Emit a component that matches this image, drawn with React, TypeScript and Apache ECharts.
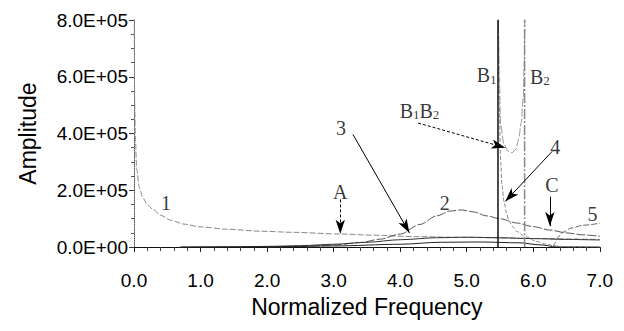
import React, { useEffect, useRef } from "react";
import * as echarts from "echarts";

// Axis tick labels
const xTickLabels = ["0.0", "1.0", "2.0", "3.0", "4.0", "5.0", "6.0", "7.0"];
const yTickLabels = ["0.0E+00", "2.0E+05", "4.0E+05", "6.0E+05", "8.0E+05"];

// Curves: [normalized frequency, amplitude]
const curve1 = [
  [0.002, 900000], [0.01, 520000], [0.02, 390000], [0.04, 275000], [0.08, 210000],
  [0.13, 175000], [0.2, 150000], [0.29, 132000], [0.4, 112000], [0.55, 95000],
  [0.75, 81000], [1.0, 71000], [1.4, 63000], [1.9, 56000], [2.4, 52000],
  [3.1, 46000], [3.6, 42000], [4.2, 37000], [5.0, 34000], [6.0, 30000], [7.0, 27000],
];
const curve2 = [
  [2.0, 0], [2.5, 2000], [3.0, 7000], [3.4, 16000], [3.7, 28000], [4.0, 46000],
  [4.3, 80000], [4.55, 110000], [4.75, 127000], [4.92, 131000], [5.1, 124000],
  [5.3, 110000], [5.5, 100000], [5.75, 85000], [6.0, 72000], [6.25, 60000],
  [6.5, 50000], [6.75, 43000], [7.0, 38000],
];
const curve3 = [
  [0.7, 0], [1.5, 1000], [2.0, 2500], [2.5, 5000], [3.0, 10000], [3.5, 17000],
  [4.0, 26000], [4.55, 33000], [5.0, 35000], [5.5, 33000], [6.0, 30000],
  [6.5, 27000], [7.0, 25000],
];
const curve4 = [
  [5.475, 850000], [5.49, 500000], [5.51, 300000], [5.53, 220000], [5.56, 160000],
  [5.6, 120000], [5.63, 92000], [5.7, 70000], [5.75, 55000], [5.89, 36000],
  [6.05, 20000], [6.2, 10000], [6.33, 4000], [6.5, 1000], [7.0, 0],
];
const curve5 = [
  [6.3, 0], [6.33, 15000], [6.38, 38000], [6.45, 53000], [6.57, 67000],
  [6.75, 77000], [7.0, 84000],
];
const curve6 = [
  [0.7, 0], [2.0, 1000], [3.0, 4000], [4.0, 10000], [4.6, 17000], [5.2, 18000],
  [5.8, 15000], [6.1, 8000], [6.35, 1000], [7.0, 0],
];
const curveB1B2 = [
  [5.475, 850000], [5.49, 600000], [5.51, 430000], [5.56, 363000], [5.62, 338000],
  [5.68, 332000], [5.74, 345000], [5.78, 380000], [5.82, 440000], [5.85, 530000],
  [5.865, 650000], [5.875, 850000],
];
const lineB1 = [[5.47, 0], [5.47, 800000]];
const lineB2 = [[5.87, 0], [5.87, 800000]];

// Annotation labels: [x, y, text]
const labelPoints = [
  [0.48, 155000, "1"],
  [3.1, 195000, "A"],
  [4.67, 155000, "2"],
  [3.11, 420000, "3"],
  [6.33, 353000, "4"],
  [6.89, 118000, "5"],
  [6.28, 218000, "C"],
  [4.29, 480000, "{b|B}{s|1}{b|B}{s|2}"],
  [5.3, 605000, "{b|B}{s|1}"],
  [6.1, 600000, "{b|B}{s|2}"],
];

// Arrows: [x1, y1, x2, y2, dotted]
const arrows = [
  [3.29, 397000, 4.14, 50000, 0],
  [4.27, 437000, 5.58, 350000, 1],
  [6.28, 336000, 5.58, 161000, 0],
  [3.1, 168000, 3.1, 47000, 1],
  [6.25, 178000, 6.25, 74000, 0],
];

const sans = "'Liberation Sans', Arial, Helvetica, sans-serif";
const serif = "'Liberation Serif', 'Times New Roman', serif";

export default function App() {
  const ref = useRef<HTMLDivElement>(null);
  useEffect(() => {
    if (!ref.current) return;
    const chart = echarts.init(ref.current, undefined, { renderer: "svg" });
    const mkLine = (data: number[][], color: string, type: any, width = 1) => ({
      type: "line",
      data,
      showSymbol: false,
      symbol: "none",
      smooth: 0.3,
      smoothMonotone: "x",
      lineStyle: { color, width, type },
      silent: true,
      z: 3,
    });
    chart.setOption({
      animation: false,
      grid: { left: 116, right: 6, top: 12, bottom: 65, containLabel: false },
      xAxis: {
        type: "value",
        min: 0,
        max: 7,
        interval: 1,
        name: "Normalized Frequency",
        nameLocation: "middle",
        nameGap: 40,
        nameTextStyle: { fontFamily: sans, fontSize: 23, color: "#000" },
        axisLine: { lineStyle: { color: "#111", width: 1 } },
        axisTick: { show: true, inside: false, length: 5, lineStyle: { color: "#222" } },
        minorTick: { show: true, splitNumber: 5, length: 4, lineStyle: { color: "#444" } },
        splitLine: { show: false },
        axisLabel: {
          fontFamily: sans,
          fontSize: 19,
          color: "#000",
          margin: 24,
          formatter: (v: number) => xTickLabels[Math.round(v)] ?? "",
        },
      },
      yAxis: {
        type: "value",
        min: 0,
        max: 800000,
        interval: 200000,
        name: "Amplitude",
        nameLocation: "middle",
        nameGap: 95,
        nameRotate: 90,
        nameTextStyle: { fontFamily: sans, fontSize: 23, color: "#000" },
        axisLine: { show: true, lineStyle: { color: "#555", width: 1, type: "dotted" } },
        axisTick: { show: true, inside: false, length: 5, lineStyle: { color: "#333" } },
        minorTick: { show: true, splitNumber: 4, length: 3, lineStyle: { color: "#555" } },
        splitLine: { show: false },
        axisLabel: {
          fontFamily: sans,
          fontSize: 19,
          color: "#000",
          margin: 6,
          formatter: (v: number) => yTickLabels[Math.round(v / 200000)] ?? "",
        },
      },
      series: [
        mkLine(curve1, "#8a8a8a", [6, 2]),
        mkLine(curve2, "#555", [9, 2]),
        mkLine(curve3, "#333", "solid"),
        mkLine(curve6, "#222", "solid"),
        mkLine(curve4, "#888", [4, 2]),
        mkLine(curve5, "#666", [6, 2]),
        mkLine(curveB1B2, "#999", [8, 2]),
        mkLine(lineB1, "#111", "solid", 1.5),
        mkLine(lineB2, "#888", [10, 2, 2, 2], 1.5),
        {
          type: "scatter",
          data: labelPoints.map((p) => [p[0], p[1], p[2]]),
          symbolSize: 1,
          itemStyle: { color: "rgba(0,0,0,0)" },
          silent: true,
          z: 5,
          label: {
            show: true,
            position: "inside",
            fontFamily: serif,
            fontSize: 20,
            color: "#000",
            formatter: (p: any) => p.data[2],
            rich: {
              b: { fontFamily: serif, fontSize: 20, color: "#000" },
              s: {
                fontFamily: serif,
                fontSize: 13,
                color: "#000",
                verticalAlign: "bottom",
                padding: [8, 0, 0, 0],
              },
            },
          },
          markLine: {
            silent: true,
            symbol: ["none", "arrow"],
            symbolSize: [7, 14],
            label: { show: false },
            data: arrows.map((a) => [
              {
                coord: [a[0], a[1]],
                lineStyle: { color: "#000", width: 1, type: a[4] ? [3, 2] : "solid" },
              },
              { coord: [a[2], a[3]] },
            ]),
          },
        },
      ],
    });
    return () => chart.dispose();
  }, []);
  return <div ref={ref} style={{ width: 608, height: 315 }} />;
}
